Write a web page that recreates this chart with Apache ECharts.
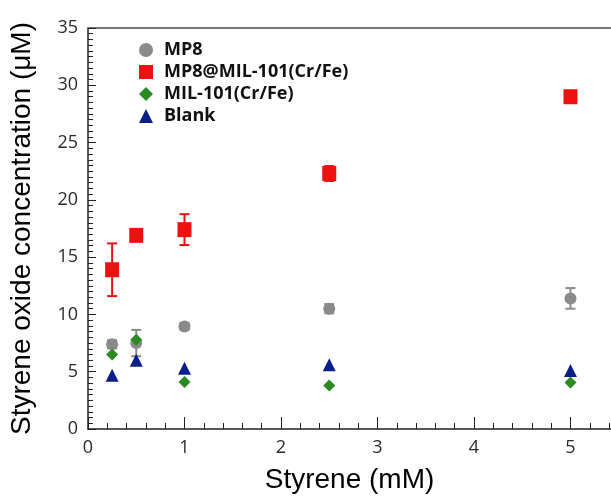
<!DOCTYPE html>
<html lang="en">
<head>
<meta charset="UTF-8">
<title>Styrene oxide</title>
<style>
    html, body { margin: 0; padding: 0; background: #fff; }
    #main { width: 611px; height: 500px; }
</style>
</head>
<body>
<div id="main"></div>
<script src="https://cdn.jsdelivr.net/npm/echarts@6/dist/echarts.min.js"></script>
<script>
// styrene concentration (mM)
var styrene = [0.25, 0.5, 1, 2.5, 5];
// styrene oxide (uM) mean values and errors
var mp8 = [7.4, 7.5, 8.95, 10.5, 11.4];
var mp8Err = [0.35, 1.15, 0.3, 0.4, 0.9];
var mp8mil = [13.9, 16.9, 17.4, 22.3, 29.0];
var mp8milErr = [2.3, 0.3, 1.35, 0.65, 0.45];
var mil = [6.5, 7.8, 4.1, 3.8, 4.05];
var blank = [4.7, 6.0, 5.3, 5.6, 5.1];

var myChart = echarts.init(document.getElementById('main'));

function pts(ys) {
    return styrene.map(function (x, i) { return [x, ys[i]]; });
}
function errs(ys, es) {
    return styrene.map(function (x, i) { return [x, ys[i] - es[i], ys[i] + es[i]]; });
}
function errorSeries(ys, es, color) {
    return {
        type: 'custom',
        z: 1,
        silent: true,
        data: errs(ys, es),
        renderItem: function (params, api) {
            var lo = api.coord([api.value(0), api.value(1)]);
            var hi = api.coord([api.value(0), api.value(2)]);
            var w = 5;
            var st = { stroke: color, lineWidth: 2 };
            return {
                type: 'group',
                children: [
                    { type: 'line', shape: { x1: lo[0], y1: lo[1], x2: hi[0], y2: hi[1] }, style: st },
                    { type: 'line', shape: { x1: lo[0] - w, y1: lo[1], x2: lo[0] + w, y2: lo[1] }, style: st },
                    { type: 'line', shape: { x1: hi[0] - w, y1: hi[1], x2: hi[0] + w, y2: hi[1] }, style: st }
                ]
            };
        }
    };
}

var tickFont = { color: '#2a2a2a', fontSize: 18, fontFamily: 'Open Sans' };

var option = {
    backgroundColor: '#fff',
    animation: false,
    grid: { left: 88, top: 28, bottom: 71, right: 0, outerBoundsMode: 'none', containLabel: false },
    legend: {
        left: 134,
        top: 36,
        orient: 'vertical',
        itemGap: 4,
        itemWidth: 14,
        itemHeight: 14,
        textStyle: { fontSize: 18, fontWeight: 'bold', fontFamily: 'Open Sans', color: '#111', padding: [0, 0, 0, 6] },
        data: ['MP8', 'MP8@MIL-101(Cr/Fe)', 'MIL-101(Cr/Fe)', 'Blank']
    },
    xAxis: [{
        type: 'value',
        min: 0,
        max: 5.42,
        interval: 1,
        name: 'Styrene (mM)',
        nameLocation: 'middle',
        nameGap: 37,
        nameTextStyle: { fontSize: 28, fontFamily: 'Liberation Sans', color: '#000' },
        axisLine: { lineStyle: { color: '#222', width: 1.5 } },
        axisTick: { inside: true, length: 12, lineStyle: { color: '#222' } },
        minorTick: { show: true, splitNumber: 5, length: 6, lineStyle: { color: '#222' } },
        splitLine: { show: false },
        axisLabel: Object.assign({ margin: 10, formatter: function (v) { return v > 5 ? '' : v; } }, tickFont)
    }, {
        type: 'value',
        position: 'top',
        min: 0,
        max: 5.42,
        axisLine: { show: true, lineStyle: { color: '#777', width: 2 } },
        axisTick: { show: false },
        axisLabel: { show: false },
        splitLine: { show: false }
    }],
    yAxis: {
        type: 'value',
        min: 0,
        max: 35,
        interval: 5,
        name: 'Styrene oxide concentration (\u03bcM)',
        nameLocation: 'middle',
        nameGap: 52,
        nameTextStyle: { fontSize: 28, fontFamily: 'Liberation Sans', color: '#000' },
        axisLine: { show: true, lineStyle: { color: '#222', width: 1.5 } },
        axisTick: { inside: true, length: 8, lineStyle: { color: '#222' } },
        minorTick: { show: true, splitNumber: 10, length: 5, lineStyle: { color: '#222' } },
        splitLine: { show: false },
        axisLabel: Object.assign({ margin: 10 }, tickFont)
    },
    series: [
        errorSeries(mp8, mp8Err, '#8a8a8a'),
        errorSeries(mp8mil, mp8milErr, '#e81010'),
        {
            name: 'MP8', type: 'scatter', z: 3, symbol: 'circle', symbolSize: 12,
            itemStyle: { color: '#8a8a8a', opacity: 1 }, data: pts(mp8)
        },
        {
            name: 'MP8@MIL-101(Cr/Fe)', type: 'scatter', z: 3, symbol: 'rect', symbolSize: [14, 15],
            itemStyle: { color: '#ee1111', opacity: 1 }, data: pts(mp8mil)
        },
        {
            name: 'MIL-101(Cr/Fe)', type: 'scatter', z: 3, symbol: 'diamond', symbolSize: 12,
            itemStyle: { color: '#2a8a22', opacity: 1 }, data: pts(mil)
        },
        {
            name: 'Blank', type: 'scatter', z: 3, symbol: 'triangle', symbolSize: 13,
            itemStyle: { color: '#0a1f88', opacity: 1 }, data: pts(blank)
        }
    ]
};

myChart.setOption(option);
</script>
</body>
</html>
